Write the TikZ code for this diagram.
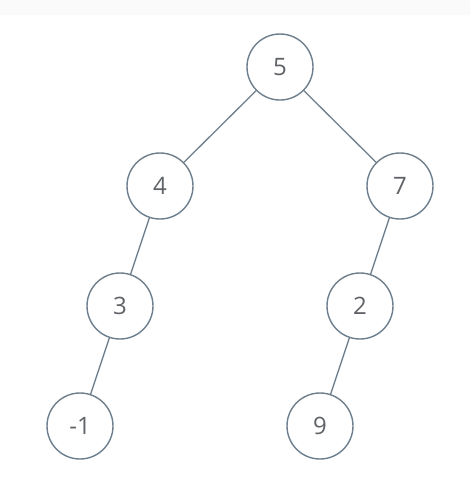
\documentclass[tikz,border=0pt]{standalone}
\usepackage{fontspec}
\setmainfont{Open Sans}
\definecolor{edge}{HTML}{6E7F8E}
\definecolor{txt}{HTML}{5F6368}
\definecolor{fillc}{HTML}{FFFFFF}
\definecolor{topbar}{HTML}{FAFAFA}
\begin{document}
\begin{tikzpicture}[x=1pt,y=-1pt,
  tnode/.style={circle,draw=edge,line width=1.4pt,fill=fillc,minimum size=66pt,inner sep=0pt,text=txt,font=\fontsize{24}{28}\selectfont},
  tedge/.style={draw=edge,line width=1.3pt}]
\fill[white] (0,0) rectangle (470,498);
\fill[topbar] (0,0) rectangle (470,15);
\useasboundingbox (0,0) rectangle (470,498);
\node[tnode] (n5) at (280,67) {5};
\node[tnode] (n4) at (160,186) {4};
\node[tnode] (n7) at (400,186) {7};
\node[tnode] (n3) at (120,306) {3};
\node[tnode] (n2) at (360,306) {2};
\node[tnode] (nm1) at (80,426) {-1};
\node[tnode] (n9) at (320,426) {9};
\draw[tedge] (n5) -- (n4);
\draw[tedge] (n5) -- (n7);
\draw[tedge] (n4) -- (n3);
\draw[tedge] (n3) -- (nm1);
\draw[tedge] (n7) -- (n2);
\draw[tedge] (n2) -- (n9);
\end{tikzpicture}
\end{document}
